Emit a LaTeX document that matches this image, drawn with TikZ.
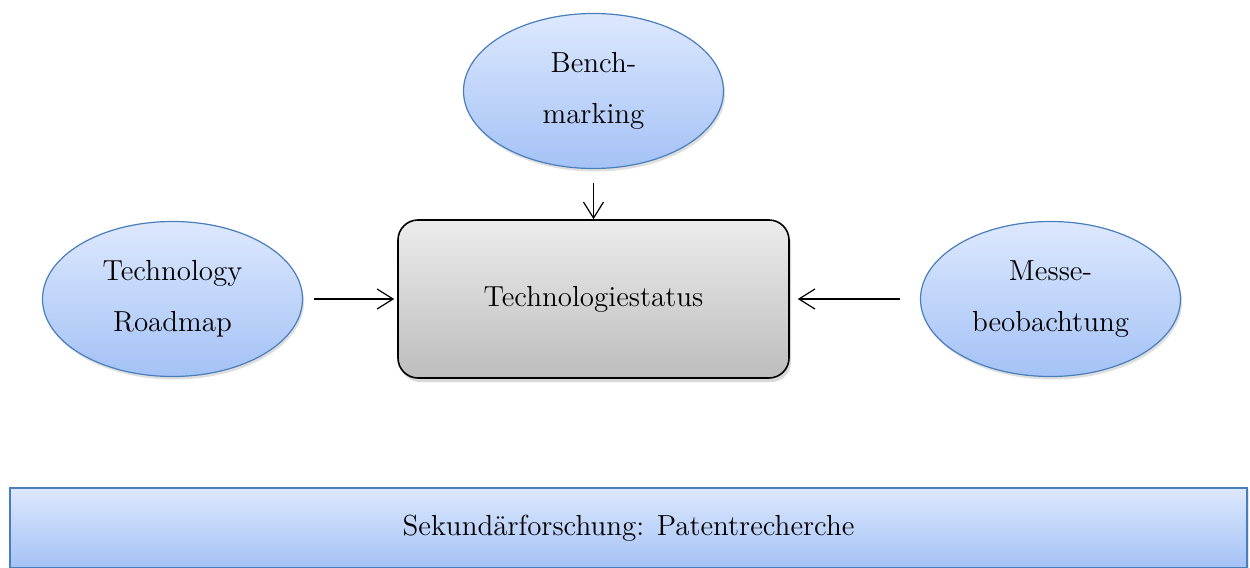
\documentclass[tikz,border=0pt]{standalone}
\usepackage{tikz}
\usetikzlibrary{arrows.meta,positioning,shapes.geometric,shadows}
\definecolor{bluetop}{HTML}{DDE8FD}
\definecolor{bluebottom}{HTML}{A4C2F6}
\definecolor{blueline}{HTML}{4A7EBB}
\definecolor{greytop}{HTML}{ECECEC}
\definecolor{greybottom}{HTML}{BDBDBD}
\tikzset{%
	method/.style    = {ellipse, draw=blueline, line width=0.6pt, top color=bluetop, bottom color=bluebottom, minimum width=130pt, minimum height=77.5pt, inner sep=0pt, align=center, font=\fontsize{14.5}{25.5}\selectfont, drop shadow={shadow xshift=0.8pt, shadow yshift=-1.5pt, opacity=0.25}}, % Method
	statusbox/.style = {rectangle, draw, line width=0.8pt, rounded corners=10pt, top color=greytop, bottom color=greybottom, minimum width=195.5pt, minimum height=79pt, font=\fontsize{14.5}{25}\selectfont, drop shadow={shadow xshift=1pt, shadow yshift=-2pt, opacity=0.3}}, % Status
	basebox/.style   = {rectangle, draw=blueline, line width=1pt, top color=bluetop, bottom color=bluebottom, minimum width=618.5pt, minimum height=40pt, font=\fontsize{14.5}{25}\selectfont, drop shadow={shadow xshift=1pt, shadow yshift=-1pt, opacity=0.2}}, % Base
	arrow/.style     = {line width=0.6pt, -{Straight Barb[length=8pt,width=10pt]}},
}

\begin{document}
\begin{tikzpicture}[node distance=104pt]
	\useasboundingbox (0,0) rectangle (625pt,-284pt);
	\node [statusbox] (status) at (296.75pt,-149.5pt) {Technologiestatus};
	\node [method] (bench) [above of=status] {Bench-\\marking};
	\node [method] (road) [left of=status,node distance=210.5pt] {Technology\\Roadmap};
	\node [method] (messe) [right of=status,node distance=228.5pt] {Messe-\\beobachtung};
	\node [basebox] (patent) at (314.25pt,-264pt) {Sekundärforschung: Patentrecherche};
	
	\draw[arrow,shorten <=7pt] (bench) -- (status);
	\draw[arrow,shorten <=5.5pt,shorten >=1.5pt] (road) -- (status);
	\draw[arrow,shorten <=10pt,shorten >=4pt] (messe) -- (status);
\end{tikzpicture}
\end{document}
